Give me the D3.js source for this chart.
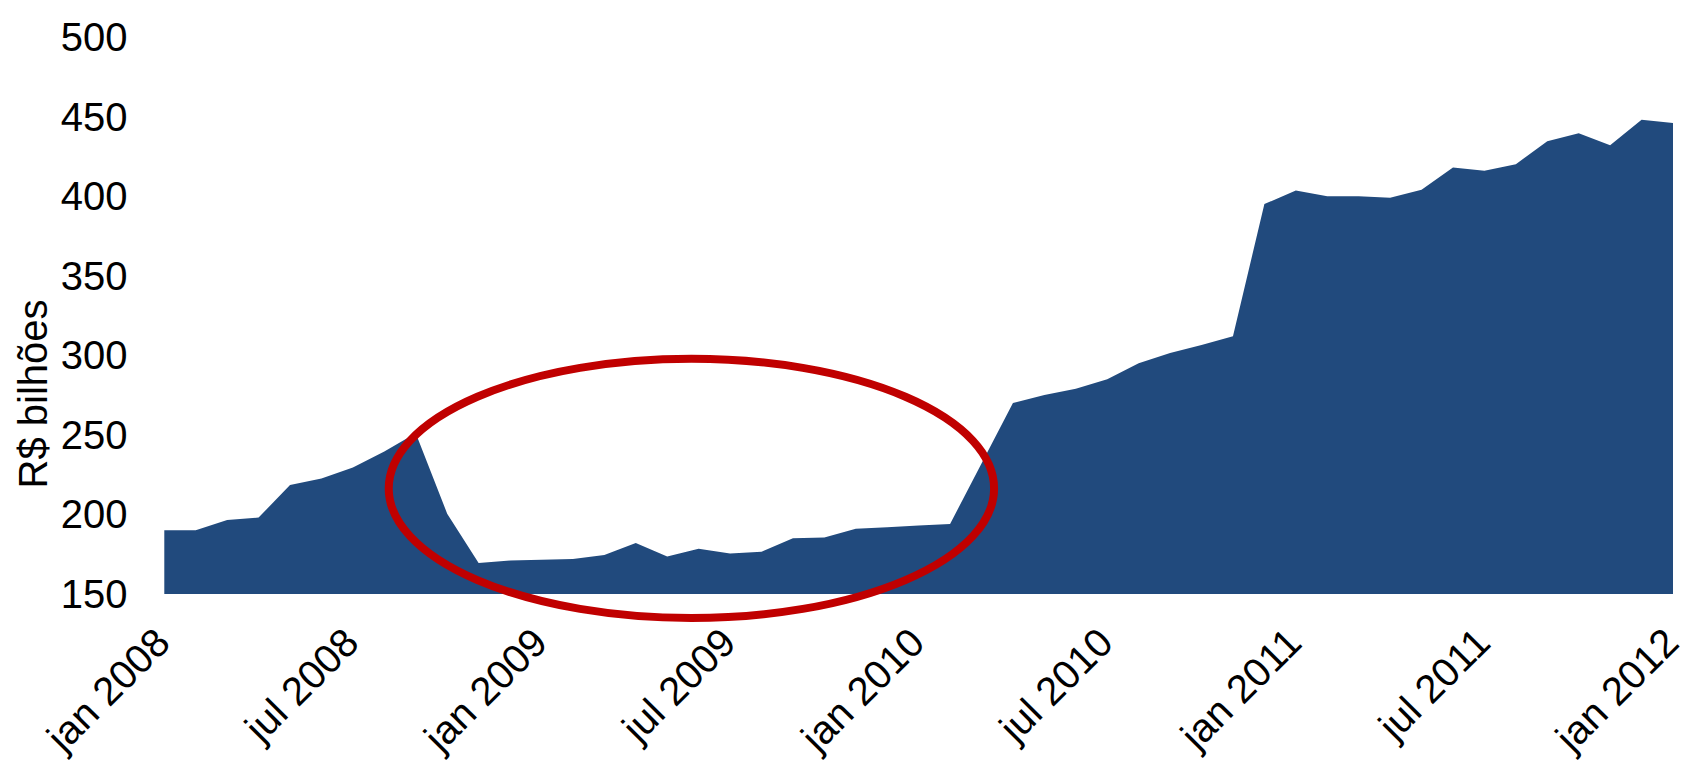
<!DOCTYPE html>
<html>
<head>
<meta charset="utf-8">
<script src="https://cdn.jsdelivr.net/npm/d3@7"></script>
<style>
  body { margin: 0; background: #fff; }
  svg { display: block; }
  text { font-family: "Liberation Sans", Arial, sans-serif; fill: #000; }
</style>
</head>
<body>
<svg id="chart" width="1685" height="769"></svg>
<script>
// monthly values, jan 2008 .. jan 2012 (R$ bilhões)
const values = [
    190, 190, 196.5, 198, 218.5, 222.5, 229.5, 239.5, 251, 200.5, 169.5, 171,
    171.5, 172, 174.5, 182, 173.5, 178.5, 175.5, 176.5, 185, 185.5, 191, 192,
    193, 194, 232, 270, 275, 279, 285, 295, 301.5, 306.5, 312, 395,
    403.5, 400, 400, 399, 404, 418, 416, 420, 434.5, 439.5, 432, 448,
    446,
];
const monthNames = ["jan", "fev", "mar", "abr", "mai", "jun", "jul", "ago", "set", "out", "nov", "dez"];
const months = values.map((v, i) => monthNames[i % 12] + " " + (2008 + Math.floor(i / 12)));
const xTickLabels = ["jan 2008", "jul 2008", "jan 2009", "jul 2009", "jan 2010", "jul 2010", "jan 2011", "jul 2011", "jan 2012"];
const yTicks = [150, 200, 250, 300, 350, 400, 450, 500];
const yLabel = "R$ bilhões";
// highlighted period (ellipse): month index from/to, value top/bottom
const highlight = { from: 7.14, to: 26.4, top: 297.8, bottom: 134.9 };

const svg = d3.select("#chart");
const plotLeft = 164.3, plotRight = 1673, plotBottom = 594, plotTop = 37;

const x = d3.scalePoint().domain(months).range([plotLeft, plotRight]);
const xi = d3.scaleLinear().domain([0, months.length - 1]).range([plotLeft, plotRight]);
const y = d3.scaleLinear().domain([150, 500]).range([plotBottom, plotTop]);

// area
const area = d3.area()
    .x((d, i) => x(months[i]))
    .y0(y(150))
    .y1((d) => y(d));

svg.append("path")
    .datum(values)
    .attr("d", area)
    .attr("fill", "#214a7d");

// y axis labels
svg.append("g")
    .selectAll("text")
    .data(yTicks)
    .join("text")
    .attr("x", 127.5)
    .attr("y", (d) => y(d))
    .attr("dy", "0.35em")
    .attr("text-anchor", "end")
    .style("font-size", "40px")
    .text((d) => d);

svg.append("text")
    .attr("transform", "translate(46.5," + 394 + ") rotate(-90)")
    .attr("text-anchor", "middle")
    .style("font-size", "40px")
    .text(yLabel);

// x axis labels, rotated
svg.append("g")
    .selectAll("text")
    .data(xTickLabels)
    .join("text")
    .attr("transform", (d) => "translate(" + (x(d) + 8) + "," + 645 + ") rotate(-45)")
    .attr("text-anchor", "end")
    .style("font-size", "40px")
    .text((d) => d);

// red ellipse
const ex0 = xi(highlight.from), ex1 = xi(highlight.to);
svg.append("ellipse")
    .attr("cx", (ex0 + ex1) / 2)
    .attr("cy", (y(highlight.top) + y(highlight.bottom)) / 2)
    .attr("rx", (ex1 - ex0) / 2)
    .attr("ry", (y(highlight.bottom) - y(highlight.top)) / 2)
    .attr("fill", "none")
    .attr("stroke", "#c00000")
    .attr("stroke-width", 8);
</script>
</body>
</html>
